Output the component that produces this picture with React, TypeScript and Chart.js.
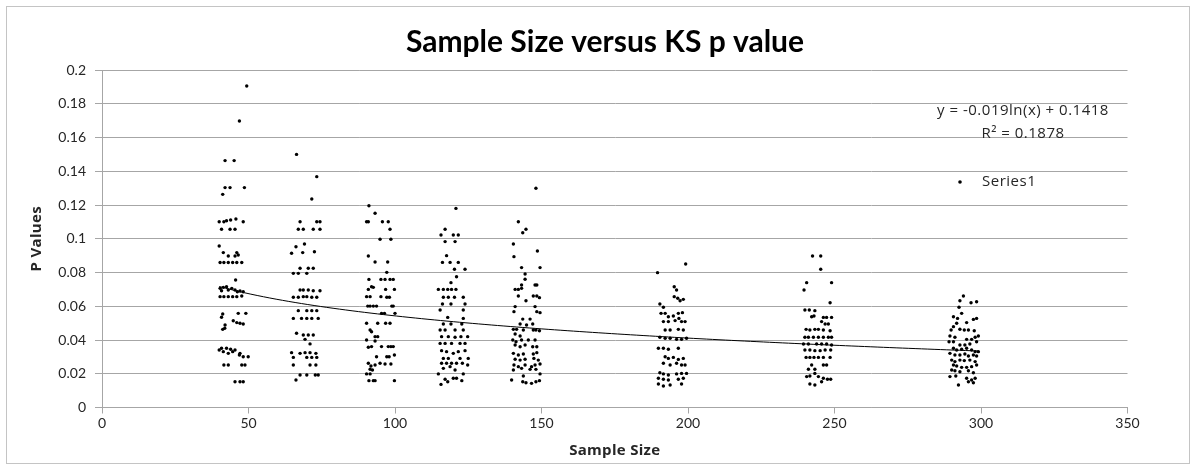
import React, { useEffect, useRef } from "react";
import { Chart, registerables } from "chart.js";

Chart.register(...registerables);

// [sample size, KS p value] pairs, grouped by the sample-size band they were drawn at
const size45: [number, number][] = [
  [49.4, 0.1905], [46.9, 0.1698], [42.0, 0.1463], [45.1, 0.1463],
  [42.0, 0.1303], [43.7, 0.1303], [48.6, 0.1303], [41.2, 0.1263],
  [40.0, 0.1101], [41.6, 0.1101], [42.5, 0.1107], [43.9, 0.1111], [45.7, 0.1117], [48.2, 0.1101],
  [40.8, 0.1056], [43.7, 0.1056], [45.4, 0.1056],
  [40.0, 0.0957], [41.4, 0.0918], [43.1, 0.0898], [46.0, 0.0918], [46.5, 0.0904], [45.4, 0.0898],
  [40.3, 0.0859], [41.6, 0.0859], [43.1, 0.0859], [44.6, 0.0859], [46.0, 0.0859], [47.7, 0.0859],
  [45.6, 0.0756],
  [40.3, 0.0706], [41.4, 0.0712], [42.5, 0.0716], [44.3, 0.0706], [45.4, 0.0696], [46.2, 0.0686],
  [40.8, 0.0692], [43.1, 0.0696], [47.1, 0.069], [48.2, 0.0686],
  [40.3, 0.0657], [41.6, 0.0657], [43.1, 0.0657], [44.6, 0.0657], [46.0, 0.0657], [47.7, 0.0661],
  [41.2, 0.0554], [40.8, 0.0535], [42.0, 0.0489], [41.2, 0.0463], [46.5, 0.0558], [49.1, 0.0558],
  [44.8, 0.0514], [46.0, 0.0503], [47.1, 0.0499], [48.2, 0.0495], [41.9, 0.047],
  [40.0, 0.0341], [40.8, 0.0351], [42.5, 0.0351], [43.9, 0.0345], [45.4, 0.0341], [46.9, 0.0311],
  [48.2, 0.0301], [49.9, 0.0301], [41.4, 0.0331], [43.1, 0.0321], [44.6, 0.0331], [47.1, 0.0321],
  [41.6, 0.0252], [43.1, 0.0252], [47.7, 0.0252], [48.8, 0.0252],
  [45.4, 0.0153], [47.1, 0.0153], [48.2, 0.0153],
];

const size70: [number, number][] = [
  [66.4, 0.15], [73.3, 0.1368], [71.6, 0.1236],
  [67.6, 0.1101], [73.3, 0.1101], [74.4, 0.1101],
  [67.0, 0.1056], [68.7, 0.1056], [72.1, 0.1056], [74.4, 0.1056],
  [64.7, 0.0914], [66.2, 0.0953], [69.1, 0.0969], [68.5, 0.0918], [72.5, 0.0923],
  [67.6, 0.0825], [70.4, 0.0825], [72.1, 0.0825], [65.3, 0.0795], [67.0, 0.0795], [69.9, 0.0795],
  [67.6, 0.0696], [68.7, 0.0696], [70.4, 0.0696], [72.1, 0.0692], [74.4, 0.0692],
  [65.3, 0.0653], [67.0, 0.0653], [68.7, 0.0657], [69.9, 0.0657], [71.6, 0.0653], [73.3, 0.0653],
  [67.0, 0.0574], [69.9, 0.0574], [71.6, 0.0574], [73.3, 0.0574],
  [65.3, 0.0528], [68.1, 0.0528], [69.9, 0.0528], [71.6, 0.0528], [73.8, 0.0528],
  [66.4, 0.044], [68.7, 0.043], [70.4, 0.043], [72.1, 0.043], [69.3, 0.0404], [71.0, 0.0377],
  [64.7, 0.0325], [67.6, 0.0321], [69.3, 0.0325], [71.0, 0.0325], [73.0, 0.0321],
  [65.3, 0.0297], [69.9, 0.0297], [71.6, 0.0297], [73.3, 0.0297],
  [65.3, 0.0252], [71.0, 0.0252], [73.0, 0.0252],
  [67.6, 0.0193], [69.9, 0.0193], [72.8, 0.0193], [73.8, 0.0193], [66.2, 0.0163],
];

const size95: [number, number][] = [
  [91.1, 0.1196], [93.2, 0.1151], [90.3, 0.1101], [90.9, 0.1101], [95.7, 0.1101], [97.7, 0.1101], [98.3, 0.1056],
  [94.9, 0.0997], [98.6, 0.0997], [90.9, 0.0898], [93.2, 0.0862], [97.5, 0.0862], [97.2, 0.0801],
  [91.1, 0.0759], [95.2, 0.0759], [96.6, 0.0759], [98.3, 0.0759], [99.4, 0.0759],
  [90.9, 0.07], [92.0, 0.0716], [92.6, 0.0712], [96.8, 0.07], [99.8, 0.07],
  [90.3, 0.0657], [91.5, 0.0657], [95.2, 0.0657], [97.2, 0.0653], [98.1, 0.0653],
  [90.7, 0.0601], [91.5, 0.0601], [92.6, 0.0601], [93.7, 0.0601], [98.9, 0.0601], [99.4, 0.0601],
  [95.4, 0.0558], [96.4, 0.0558], [100.0, 0.0558],
  [90.3, 0.0499], [94.1, 0.0499], [96.8, 0.0499], [98.3, 0.0499],
  [91.5, 0.0459], [92.0, 0.0449], [93.2, 0.042], [94.1, 0.042],
  [90.3, 0.04], [93.2, 0.0394], [98.6, 0.0361], [99.4, 0.0361], [90.9, 0.0357], [92.0, 0.0361], [95.4, 0.0361], [97.7, 0.0361],
  [93.7, 0.0301], [97.2, 0.0301], [98.0, 0.0301], [99.8, 0.0311],
  [90.9, 0.0262], [91.8, 0.0246], [93.2, 0.0252], [94.9, 0.0262], [96.6, 0.0258], [98.6, 0.0258],
  [91.5, 0.0227], [92.3, 0.0222], [90.3, 0.0199], [91.5, 0.0199],
  [91.1, 0.0159], [92.6, 0.0159], [93.2, 0.0159], [99.8, 0.0159],
];

const size120: [number, number][] = [
  [120.8, 0.118], [117.1, 0.1056], [115.7, 0.1022], [119.9, 0.1022], [121.6, 0.1022], [117.1, 0.0983], [120.5, 0.0983],
  [117.6, 0.09], [116.2, 0.086], [118.8, 0.086], [121.6, 0.086], [120.3, 0.0819], [123.9, 0.0819],
  [121.0, 0.0775], [119.1, 0.074],
  [114.8, 0.07], [116.5, 0.07], [118.0, 0.07], [119.3, 0.07], [120.8, 0.07],
  [116.5, 0.0653], [118.2, 0.0653], [120.3, 0.0653], [123.3, 0.0653],
  [116.2, 0.0613], [119.1, 0.0613], [123.9, 0.0613],
  [115.4, 0.0578], [118.0, 0.0534], [123.3, 0.0578], [123.3, 0.0528],
  [116.5, 0.0495], [119.1, 0.0495], [122.8, 0.0495],
  [115.4, 0.0459], [117.1, 0.0459], [120.5, 0.0459], [123.3, 0.0459],
  [115.9, 0.042], [118.2, 0.042], [120.5, 0.0416], [122.5, 0.042], [124.8, 0.042],
  [115.4, 0.038], [117.1, 0.038], [119.3, 0.038], [122.2, 0.038], [123.9, 0.038],
  [115.9, 0.0337], [117.6, 0.0331], [119.9, 0.0321], [121.6, 0.0331], [123.9, 0.0337],
  [116.5, 0.0291], [118.2, 0.0291], [122.2, 0.0291], [125.0, 0.0291],
  [115.9, 0.0262], [117.6, 0.0262], [119.3, 0.0262], [121.0, 0.0262], [123.0, 0.0262], [124.8, 0.0252],
  [116.5, 0.0232], [118.8, 0.0242], [120.5, 0.0222],
  [114.8, 0.0199], [123.3, 0.0199],
  [117.1, 0.0167], [119.9, 0.0173], [121.0, 0.0173], [122.8, 0.0159],
  [115.7, 0.0137], [118.0, 0.0153],
];

const size145: [number, number][] = [
  [148.1, 0.1299], [142.1, 0.1101], [144.7, 0.1056], [143.6, 0.1036], [140.4, 0.0969], [148.6, 0.0927], [140.6, 0.0894],
  [143.2, 0.0829], [149.5, 0.0829], [144.4, 0.0791], [144.4, 0.076],
  [143.2, 0.0726], [147.8, 0.0726], [148.4, 0.0726], [141.0, 0.07], [142.1, 0.07], [143.2, 0.0706],
  [142.1, 0.0661], [147.2, 0.0661], [148.4, 0.0661], [149.3, 0.0651],
  [144.7, 0.0633], [141.0, 0.0598], [147.8, 0.0598], [140.6, 0.0568], [148.4, 0.0568], [149.5, 0.0562],
  [143.6, 0.0524], [146.1, 0.0524], [142.7, 0.0495], [144.9, 0.0489], [147.0, 0.0495],
  [140.4, 0.0463], [141.5, 0.0463], [143.8, 0.0459], [147.2, 0.0459], [148.1, 0.0459], [149.3, 0.0455],
  [141.0, 0.0436], [142.7, 0.0424], [140.2, 0.04], [141.3, 0.039], [143.2, 0.04], [145.5, 0.04], [147.8, 0.04],
  [141.0, 0.037], [142.7, 0.036], [144.4, 0.037], [147.0, 0.036], [148.4, 0.036],
  [140.4, 0.0321], [142.1, 0.0311], [143.8, 0.0317], [147.2, 0.0317], [148.4, 0.0325],
  [141.0, 0.0286], [142.7, 0.0281], [144.4, 0.0286], [147.4, 0.0291], [148.9, 0.0281],
  [140.6, 0.0252], [142.1, 0.0242], [144.4, 0.0252], [146.6, 0.0242], [147.8, 0.0252], [149.5, 0.0258],
  [140.4, 0.0222], [143.2, 0.0232], [146.1, 0.0226], [148.1, 0.0226],
  [143.8, 0.0187], [149.5, 0.0199],
  [139.8, 0.0163], [143.6, 0.0153], [144.7, 0.0147], [146.6, 0.0143], [148.1, 0.0153], [149.3, 0.0159],
];

const size195: [number, number][] = [
  [199.2, 0.085], [189.6, 0.0799], [195.3, 0.0716], [196.1, 0.0696],
  [195.3, 0.0657], [196.5, 0.0647], [198.4, 0.0641], [197.3, 0.0633],
  [190.4, 0.0613], [191.6, 0.0594],
  [190.8, 0.0558], [192.2, 0.0558], [196.7, 0.0558], [198.1, 0.0562], [193.3, 0.0538], [195.0, 0.0542], [196.9, 0.0528],
  [191.6, 0.0509], [193.3, 0.0509], [195.6, 0.0515], [197.8, 0.0509], [199.0, 0.0509],
  [192.2, 0.0459], [193.9, 0.0459], [196.7, 0.0463], [198.4, 0.0459],
  [190.4, 0.0416], [192.2, 0.041], [193.9, 0.041], [196.1, 0.0404], [197.8, 0.0404], [199.5, 0.041],
  [189.9, 0.0351], [191.6, 0.0351], [193.3, 0.0345], [196.7, 0.0351],
  [192.2, 0.0301], [193.3, 0.0291], [195.0, 0.0297], [196.7, 0.0285], [198.4, 0.0291],
  [191.6, 0.0262], [193.9, 0.0252], [196.1, 0.0262], [197.8, 0.0252], [199.0, 0.0252],
  [190.4, 0.0206], [191.6, 0.0199], [193.3, 0.0193], [196.1, 0.0199], [197.8, 0.0202], [199.5, 0.0202],
  [189.9, 0.0173], [191.6, 0.0167], [193.3, 0.0163], [196.7, 0.0167], [198.4, 0.0173],
  [189.9, 0.0139], [191.6, 0.0127], [193.9, 0.0133], [197.8, 0.0139],
];

const size245: [number, number][] = [
  [242.5, 0.0898], [245.3, 0.0898], [245.3, 0.0819], [240.5, 0.074], [249.0, 0.074], [239.6, 0.0696], [248.5, 0.0621],
  [239.9, 0.0578], [241.4, 0.0578], [243.3, 0.0574],
  [242.2, 0.0538], [243.0, 0.0542], [246.2, 0.0534], [247.3, 0.0534], [249.0, 0.0534],
  [245.6, 0.0509], [246.8, 0.0495], [247.9, 0.0495],
  [240.3, 0.0463], [241.6, 0.0459], [243.3, 0.0463], [244.5, 0.0463], [246.2, 0.0459], [248.5, 0.0455],
  [239.9, 0.0416], [241.1, 0.0416], [242.8, 0.0416], [244.5, 0.0416], [246.2, 0.0416], [247.9, 0.0416], [249.0, 0.0416],
  [239.4, 0.0376], [241.1, 0.0376], [243.9, 0.0376], [245.6, 0.0376], [247.3, 0.0376], [249.0, 0.037],
  [239.9, 0.0341], [241.6, 0.0341], [243.3, 0.0337], [245.1, 0.0337], [246.8, 0.0341], [248.7, 0.0341],
  [240.3, 0.0297], [241.6, 0.0297], [243.0, 0.0297], [244.5, 0.0297], [246.2, 0.0297], [248.5, 0.0297],
  [242.2, 0.0252], [246.2, 0.0252], [247.3, 0.0252], [241.1, 0.0227], [243.3, 0.0227],
  [240.5, 0.0183], [241.6, 0.0187], [243.3, 0.0202], [244.5, 0.0183], [246.2, 0.0173], [247.6, 0.0167], [248.7, 0.0167],
  [241.6, 0.0139], [243.3, 0.0133], [245.6, 0.0153],
];

const size295: [number, number][] = [
  [294.0, 0.0661], [292.8, 0.0633], [296.6, 0.0621], [298.5, 0.0627],
  [292.5, 0.0594], [293.4, 0.0558], [290.6, 0.0538], [292.0, 0.0528],
  [295.1, 0.0503], [291.7, 0.0499], [297.4, 0.0522], [298.5, 0.0528],
  [290.6, 0.0479], [292.8, 0.0464], [294.3, 0.0459], [295.7, 0.0459], [297.7, 0.0455], [289.8, 0.0459],
  [289.4, 0.0424], [291.1, 0.0416], [295.1, 0.0404], [296.8, 0.0404], [298.0, 0.0416], [299.1, 0.0424],
  [289.1, 0.039], [290.6, 0.039], [292.8, 0.037], [294.5, 0.037], [296.2, 0.0376], [298.5, 0.039],
  [290.6, 0.0351], [291.7, 0.0341], [293.4, 0.0345], [295.1, 0.0351], [296.8, 0.0341], [298.0, 0.0331], [299.1, 0.0331],
  [289.4, 0.0321], [291.1, 0.0311], [292.8, 0.0311], [294.5, 0.0317], [295.7, 0.0305], [297.4, 0.0311], [298.5, 0.0305],
  [290.0, 0.0281], [291.1, 0.0272], [292.8, 0.0281], [294.3, 0.0278], [296.2, 0.0281], [298.0, 0.0272],
  [290.6, 0.0252], [291.7, 0.0246], [293.4, 0.0238], [295.1, 0.0238], [296.8, 0.0242], [298.5, 0.0252],
  [290.0, 0.0222], [291.1, 0.0218], [292.8, 0.0212], [295.7, 0.0218], [297.4, 0.0206],
  [289.4, 0.0183], [291.4, 0.0187], [295.1, 0.0173], [296.8, 0.0163], [298.0, 0.0173],
  [292.3, 0.0133], [295.7, 0.0153], [297.4, 0.0147],
];

// Logarithmic trendline fitted to the series
const TREND_SLOPE = -0.019;
const TREND_INTERCEPT = 0.1418;
const TREND_R2 = 0.1878;

const TITLE = "Sample Size versus KS p value";
const X_TITLE = "Sample Size";
const Y_TITLE = "P Values";
const SERIES_NAME = "Series1";

const X_MIN = 0;
const X_MAX = 350;
const X_STEP = 50;
const Y_MIN = 0;
const Y_MAX = 0.2;
const Y_STEP = 0.02;

const W = 1203;
const H = 468;
const FONT = "Lato, 'Open Sans', sans-serif";
const WIDE_FONT = "'Open Sans', Lato, sans-serif";
const TEXT = "#262626";
const GRID = "#a6a6a6";

const allPoints = [
  ...size45, ...size70, ...size95, ...size120,
  ...size145, ...size195, ...size245, ...size295,
];

function trendPoints() {
  const xs = allPoints.map((p) => p[0]);
  const lo = Math.min(...xs);
  const hi = Math.max(...xs);
  const n = 120;
  const out: { x: number; y: number }[] = [];
  for (let i = 0; i <= n; i++) {
    const x = lo + ((hi - lo) * i) / n;
    out.push({ x, y: TREND_SLOPE * Math.log(x) + TREND_INTERCEPT });
  }
  return out;
}

function setSpacing(ctx: CanvasRenderingContext2D, px: number) {
  (ctx as any).letterSpacing = `${px}px`;
}

const decorations = {
  id: "decorations",
  beforeDraw(chart: any) {
    const ctx = chart.ctx as CanvasRenderingContext2D;
    ctx.save();
    ctx.fillStyle = "#ffffff";
    ctx.fillRect(0, 0, chart.width, chart.height);
    ctx.strokeStyle = "#c4c4c4";
    ctx.lineWidth = 1;
    ctx.strokeRect(6.5, 6.5, 1183, 457);
    ctx.restore();
  },
  afterDraw(chart: any) {
    const ctx = chart.ctx as CanvasRenderingContext2D;
    const area = chart.chartArea;
    ctx.save();
    ctx.fillStyle = "#000";
    ctx.textAlign = "center";
    ctx.textBaseline = "middle";

    ctx.font = `bold 30px ${FONT}`;
    ctx.fillText(TITLE, 605, 42);

    ctx.fillStyle = TEXT;
    ctx.font = `bold 15px ${WIDE_FONT}`;
    setSpacing(ctx, 0.3);
    ctx.fillText(X_TITLE, (area.left + area.right) / 2, 451);

    ctx.save();
    ctx.translate(37, (area.top + area.bottom) / 2);
    ctx.rotate(-Math.PI / 2);
    ctx.fillText(Y_TITLE, 0, 0);
    ctx.restore();

    // trendline equation
    ctx.font = `15px ${WIDE_FONT}`;
    setSpacing(ctx, 0.5);
    ctx.fillText(`y = ${TREND_SLOPE}ln(x) + ${TREND_INTERCEPT}`, 1023, 111);
    ctx.fillText(`R² = ${TREND_R2}`, 1023, 134);

    // legend
    ctx.fillStyle = "#000";
    ctx.beginPath();
    ctx.arc(960, 182, 1.8, 0, Math.PI * 2);
    ctx.fill();
    ctx.fillStyle = TEXT;
    ctx.textAlign = "left";
    ctx.fillText(SERIES_NAME, 982, 182);
    ctx.restore();
  },
};

export default function App() {
  const canvasRef = useRef<HTMLCanvasElement | null>(null);

  useEffect(() => {
    const canvas = canvasRef.current;
    if (!canvas) return;
    const chart = new Chart(canvas, {
      type: "scatter",
      data: {
        datasets: [
          {
            label: SERIES_NAME,
            data: allPoints.map(([x, y]) => ({ x, y })),
            pointRadius: 1.7,
            pointBackgroundColor: "#000",
            pointBorderWidth: 0,
            showLine: false,
            order: 1,
          },
          {
            label: "trend",
            data: trendPoints(),
            showLine: true,
            borderColor: "#000",
            borderWidth: 1,
            pointRadius: 0,
            fill: false,
            order: 0,
          } as any,
        ],
      },
      options: {
        responsive: false,
        animation: false,
        devicePixelRatio: 1,
        layout: { padding: { left: 0, top: 70, right: 75.5, bottom: 0 } },
        plugins: {
          legend: { display: false },
          tooltip: { enabled: false },
          title: { display: false },
        },
        scales: {
          x: {
            type: "linear",
            min: X_MIN,
            max: X_MAX,
            ticks: {
              stepSize: X_STEP,
              color: TEXT,
              font: { family: FONT, size: 14 },
              padding: 2,
              maxRotation: 0,
            },
            grid: { drawOnChartArea: false, tickLength: 6, color: GRID },
            border: { color: GRID },
            afterFit: (s: any) => {
              s.height = 60.5;
            },
          },
          y: {
            min: Y_MIN,
            max: Y_MAX,
            ticks: {
              stepSize: Y_STEP,
              color: TEXT,
              font: { family: FONT, size: 14 },
              padding: 9,
              callback: (v: any) => String(Number(Number(v).toFixed(2))),
            },
            grid: { color: GRID, tickLength: 7 },
            border: { color: GRID },
            afterFit: (s: any) => {
              s.width = 102;
            },
          },
        },
      },
      plugins: [decorations],
    });
    return () => chart.destroy();
  }, []);

  return (
    <div style={{ position: "fixed", left: 0, top: 0, width: W, height: H, background: "#fff" }}>
      <canvas ref={canvasRef} width={W} height={H} style={{ display: "block" }} />
    </div>
  );
}
